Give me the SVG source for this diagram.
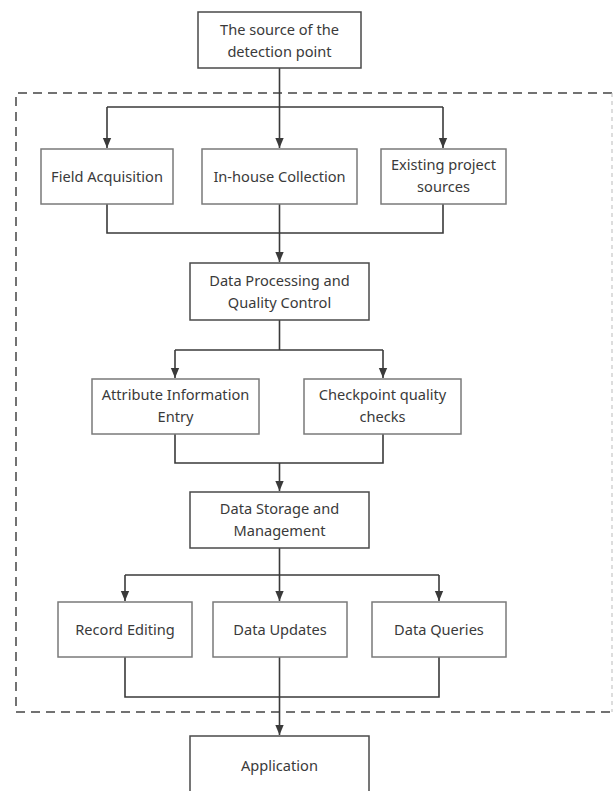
<svg xmlns="http://www.w3.org/2000/svg" width="613" height="791" viewBox="0 0 613 791">
<style>
.box{fill:#fff;stroke:#7a7a7a;stroke-width:1.5}
.dbox{fill:#fff;stroke:#4a4a4a;stroke-width:1.5}
.t{font-family:"Noto Sans","Open Sans",sans-serif;font-size:14.6px;fill:#3a3a3a;text-anchor:middle}
.ln{fill:none;stroke:#3a3a3a;stroke-width:1.6}
.dash{fill:none;stroke:#444;stroke-width:1.5;stroke-dasharray:9 6}
.dashr{fill:none;stroke:#bbb;stroke-width:1;stroke-dasharray:4 4}
</style>
<defs>
<marker id="ah" markerWidth="10" markerHeight="13" refX="12" refY="5" orient="auto" markerUnits="userSpaceOnUse" viewBox="0 0 12 10">
<path d="M0,0 L12,5 L0,10 Z" fill="#3a3a3a"/>
</marker>
</defs>
<path class="dash" d="M612,93 H16 V712 H612"/>
<path class="dashr" d="M612,93 V712"/>
<g id="connectors">
<path class="ln" d="M279.5,68 V148" marker-end="url(#ah)"/>
<path class="ln" d="M107,107 H443"/>
<path class="ln" d="M107,107 V148" marker-end="url(#ah)"/>
<path class="ln" d="M443,107 V148" marker-end="url(#ah)"/>
<path class="ln" d="M107,204 V233 H443 V204"/>
<path class="ln" d="M279.5,204 V262" marker-end="url(#ah)"/>
<path class="ln" d="M279.5,320 V350"/>
<path class="ln" d="M175,350 H383"/>
<path class="ln" d="M175,350 V378" marker-end="url(#ah)"/>
<path class="ln" d="M383,350 V378" marker-end="url(#ah)"/>
<path class="ln" d="M175,434 V463 H383 V434"/>
<path class="ln" d="M279.5,463 V491" marker-end="url(#ah)"/>
<path class="ln" d="M279.5,548 V601" marker-end="url(#ah)"/>
<path class="ln" d="M125,575 H439"/>
<path class="ln" d="M125,575 V601" marker-end="url(#ah)"/>
<path class="ln" d="M439,575 V601" marker-end="url(#ah)"/>
<path class="ln" d="M125,657 V697 H439 V657"/>
<path class="ln" d="M279.5,657 V735" marker-end="url(#ah)"/>
</g>
<g id="source"><rect class="dbox" x="198" y="12" width="163" height="56"/><text class="t" x="279.5" y="35">The source of the</text><text class="t" x="279.5" y="57">detection point</text></g>
<g id="field"><rect class="box" x="41" y="149" width="132" height="55"/><text class="t" x="107" y="182">Field Acquisition</text></g>
<g id="inhouse"><rect class="box" x="202" y="149" width="155" height="55"/><text class="t" x="279.5" y="182">In-house Collection</text></g>
<g id="existing"><rect class="box" x="381" y="149" width="125" height="55"/><text class="t" x="443.5" y="170">Existing project</text><text class="t" x="443.5" y="192">sources</text></g>
<g id="processing"><rect class="dbox" x="190" y="263" width="179" height="57"/><text class="t" x="279.5" y="286">Data Processing and</text><text class="t" x="279.5" y="308">Quality Control</text></g>
<g id="attribute"><rect class="box" x="92" y="379" width="167" height="55"/><text class="t" x="175.5" y="400">Attribute Information</text><text class="t" x="175.5" y="422">Entry</text></g>
<g id="checkpoint"><rect class="box" x="304" y="379" width="157" height="55"/><text class="t" x="382.5" y="400">Checkpoint quality</text><text class="t" x="382.5" y="422">checks</text></g>
<g id="storage"><rect class="dbox" x="190" y="492" width="179" height="56"/><text class="t" x="279.5" y="514">Data Storage and</text><text class="t" x="279.5" y="536">Management</text></g>
<g id="record"><rect class="box" x="58" y="602" width="134" height="55"/><text class="t" x="125" y="635">Record Editing</text></g>
<g id="updates"><rect class="box" x="213" y="602" width="134" height="55"/><text class="t" x="280" y="635">Data Updates</text></g>
<g id="queries"><rect class="box" x="372" y="602" width="134" height="55"/><text class="t" x="439" y="635">Data Queries</text></g>
<g id="application"><rect class="dbox" x="190" y="736" width="179" height="70"/><text class="t" x="279.5" y="771">Application</text></g>
</svg>
